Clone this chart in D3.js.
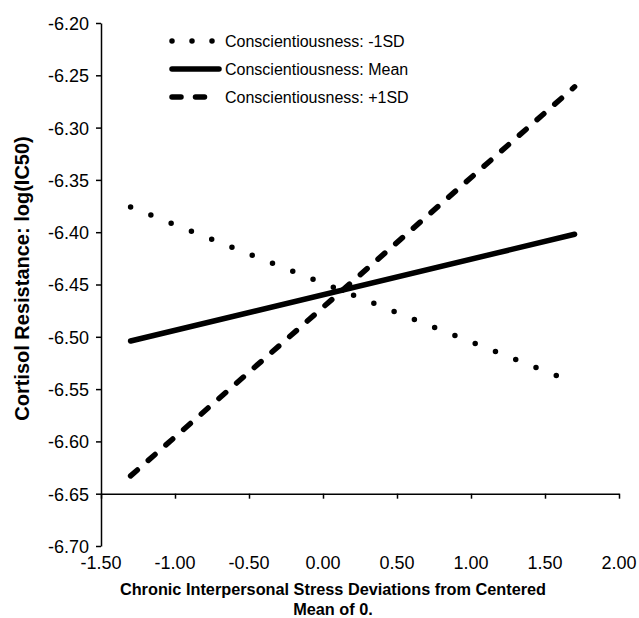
<!DOCTYPE html>
<html>
<head>
<meta charset="utf-8">
<script src="https://cdn.jsdelivr.net/npm/d3@7.9.0/dist/d3.min.js"></script>
<style>
  body { margin: 0; background: #fff; }
  svg { display: block; font-family: "Liberation Sans", Arial, sans-serif; }
  .axis path, .axis line { stroke: #000; stroke-width: 1.5; }
  .axis text { font-size: 18px; fill: #000; }
</style>
</head>
<body>
<svg width="639" height="618"></svg>
<script>
// data
const stressX = [-1.3, 1.7];
const lowSD = [-6.376, -6.544];
const meanC = [-6.504, -6.402];
const highSD = [-6.633, -6.261];
const seriesNames = ['Conscientiousness: -1SD', 'Conscientiousness: Mean', 'Conscientiousness: +1SD'];
const xTicks = [-1.5, -1.0, -0.5, 0.0, 0.5, 1.0, 1.5, 2.0];
const yTicks = [-6.20, -6.25, -6.30, -6.35, -6.40, -6.45, -6.50, -6.55, -6.60, -6.65, -6.70];

const svg = d3.select('svg');

let x = d3.scaleLinear().domain([-1.5, 2.0]).range([101, 619]);
let y = d3.scaleLinear().domain([-6.70, -6.20]).range([546, 23]);

// y axis
svg.append('g')
  .attr('class', 'axis')
  .attr('transform', `translate(${x(-1.5)},0)`)
  .call(d3.axisLeft(y).tickValues(yTicks).tickSize(5).tickSizeOuter(0).tickFormat(d => d.toFixed(2)))
  .selectAll('text').attr('x', -12).attr('dy', '0.36em');

// x axis crosses at -6.65, labels sit below the plot
svg.append('g')
  .attr('class', 'axis')
  .attr('transform', `translate(0,${y(-6.65)})`)
  .call(d3.axisBottom(x).tickValues(xTicks).tickSize(5).tickSizeOuter(0).tickFormat(''));

svg.append('g')
  .attr('class', 'axis')
  .selectAll('text')
  .data(xTicks)
  .join('text')
  .attr('x', d => x(d))
  .attr('y', 569)
  .attr('text-anchor', 'middle')
  .text(d => d.toFixed(2));

// axis titles
svg.append('text')
  .attr('transform', `translate(29,${(y(-6.20) + y(-6.70)) / 2 - 6}) rotate(-90)`)
  .attr('text-anchor', 'middle')
  .attr('font-weight', 'bold')
  .attr('font-size', 20)
  .text('Cortisol Resistance: log(IC50)');

svg.append('text')
  .attr('x', 333).attr('y', 595)
  .attr('text-anchor', 'middle')
  .attr('font-weight', 'bold')
  .attr('font-size', 16.3)
  .text('Chronic Interpersonal Stress Deviations from Centered');
svg.append('text')
  .attr('x', 333).attr('y', 615)
  .attr('text-anchor', 'middle')
  .attr('font-weight', 'bold')
  .attr('font-size', 16.3)
  .text('Mean of 0.');

// lines
const styles = [
  { vals: lowSD, dash: '0 21.8' },
  { vals: meanC, dash: null },
  { vals: highSD, dash: '9 14.5' }
];

let lineGen = d3.line().x(d => x(d[0])).y(d => y(d[1]));

styles.forEach(s => {
  svg.append('path')
    .datum(stressX.map((v, i) => [v, s.vals[i]]))
    .attr('d', lineGen)
    .attr('fill', 'none')
    .attr('stroke', '#000')
    .attr('stroke-width', 5.5)
    .attr('stroke-linecap', 'round')
    .attr('stroke-dasharray', s.dash);
});

// legend
let legend = svg.append('g');
seriesNames.forEach((name, i) => {
  let ly = 41 + i * 28;
  legend.append('line')
    .attr('x1', 172).attr('x2', 219)
    .attr('y1', ly).attr('y2', ly)
    .attr('stroke', '#000')
    .attr('stroke-width', 5.5)
    .attr('stroke-linecap', 'round')
    .attr('stroke-dasharray', styles[i].dash ? (i === 0 ? '0 20' : '9 14.5') : null);
  legend.append('text')
    .attr('x', 225).attr('y', ly + 6)
    .attr('font-size', 16)
    .text(name);
});
</script>
</body>
</html>
